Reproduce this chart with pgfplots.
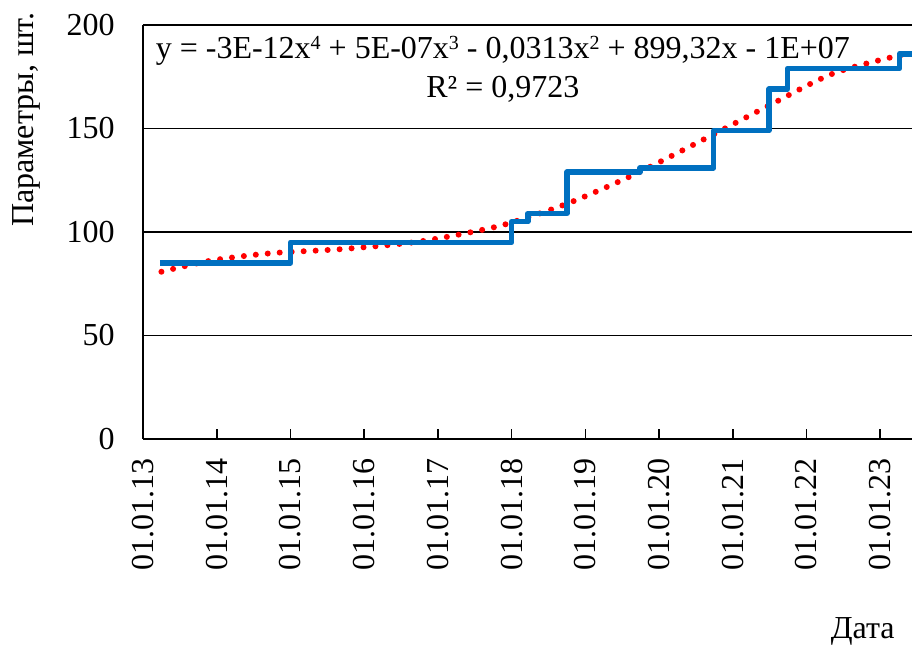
\documentclass[border=0pt]{standalone}
\usepackage{fontspec}
\setmainfont{Liberation Serif}
\usepackage{pgfplots}
\pgfplotsset{compat=1.18}
\definecolor{excelblue}{HTML}{0070C0}
\newcommand\pw[1]{\raisebox{0.6ex}{\fontsize{10}{12}\selectfont #1}}
\begin{document}
\fontsize{16}{19}\selectfont
\begin{tikzpicture}
\path[use as bounding box] (-71.5pt,-103.5pt) rectangle (384.5pt,219.5pt);
\begin{axis}[
    at={(0,0)}, anchor=south west,
    scale only axis,
    width=384.5pt, height=207pt,
    xmin=2013, xmax=2023.43,
    ymin=0, ymax=200,
    axis x line*=bottom, axis y line*=left,
    axis line style={black, line width=1pt},
    ytick={0,50,100,150,200},
    ymajorgrids,
    grid style={black, line width=0.8pt},
    ytick style={draw=none},
    xtick={2013,2014,2015,2016,2017,2018,2019,2020,2021,2022,2023},
    xticklabels={01.01.13,01.01.14,01.01.15,01.01.16,01.01.17,01.01.18,01.01.19,01.01.20,01.01.21,01.01.22,01.01.23},
    tick align=inside,
    xtick style={black, line width=0.8pt},
    major tick length=5pt,
    tick label style={font=\fontsize{16}{19}\selectfont},
    /pgf/number format/assume math mode=true,
    x tick label style={rotate=90, anchor=east, inner xsep=9.5pt, inner ysep=0pt},
    y tick label style={inner sep=0pt, xshift=-14pt},
    xlabel={Дата},
    xlabel style={at={(rel axis cs:0.936,-0.464)}, anchor=center, font=\fontsize{16}{19}\selectfont},
    ylabel={Параметры, шт.},
    ylabel style={at={(rel axis cs:-0.152,0.771)}, anchor=center, rotate=0, font=\fontsize{16}{19}\selectfont},
    clip=true,
]
% trend line (polynomial)
\addplot[red, line width=3pt, dash pattern=on 0pt off 6pt, line cap=round, smooth] coordinates {
    (2013.25,80.8) (2013.91,86.1) (2014.72,89.7) (2015.72,91.8) (2016.71,95.2)
    (2017.53,100.5) (2018.01,104.7) (2018.79,114.2) (2019.70,128.4)
    (2020.74,147.2) (2021.48,160.9) (2022.37,176.7) (2023.34,186.0)
};
% parameters, step line
\addplot[excelblue, line width=2.8pt, const plot, line join=round] coordinates {
    (2013.23,85) (2015.00,95) (2018.00,105) (2018.22,109) (2018.75,129)
    (2019.74,131) (2020.74,149) (2021.49,169) (2021.74,179) (2023.26,186)
    (2023.60,186)
};
\node[anchor=base, font=\fontsize{16}{19}\selectfont] at (rel axis cs:0.468,0.920)
    {y = -3E-12x\pw{4} + 5E-07x\pw{3} - 0,0313x\pw{2} + 899,32x - 1E+07};
\node[anchor=base, font=\fontsize{16}{19}\selectfont] at (rel axis cs:0.468,0.826)
    {R² = 0,9723};
\end{axis}
\end{tikzpicture}
\end{document}
